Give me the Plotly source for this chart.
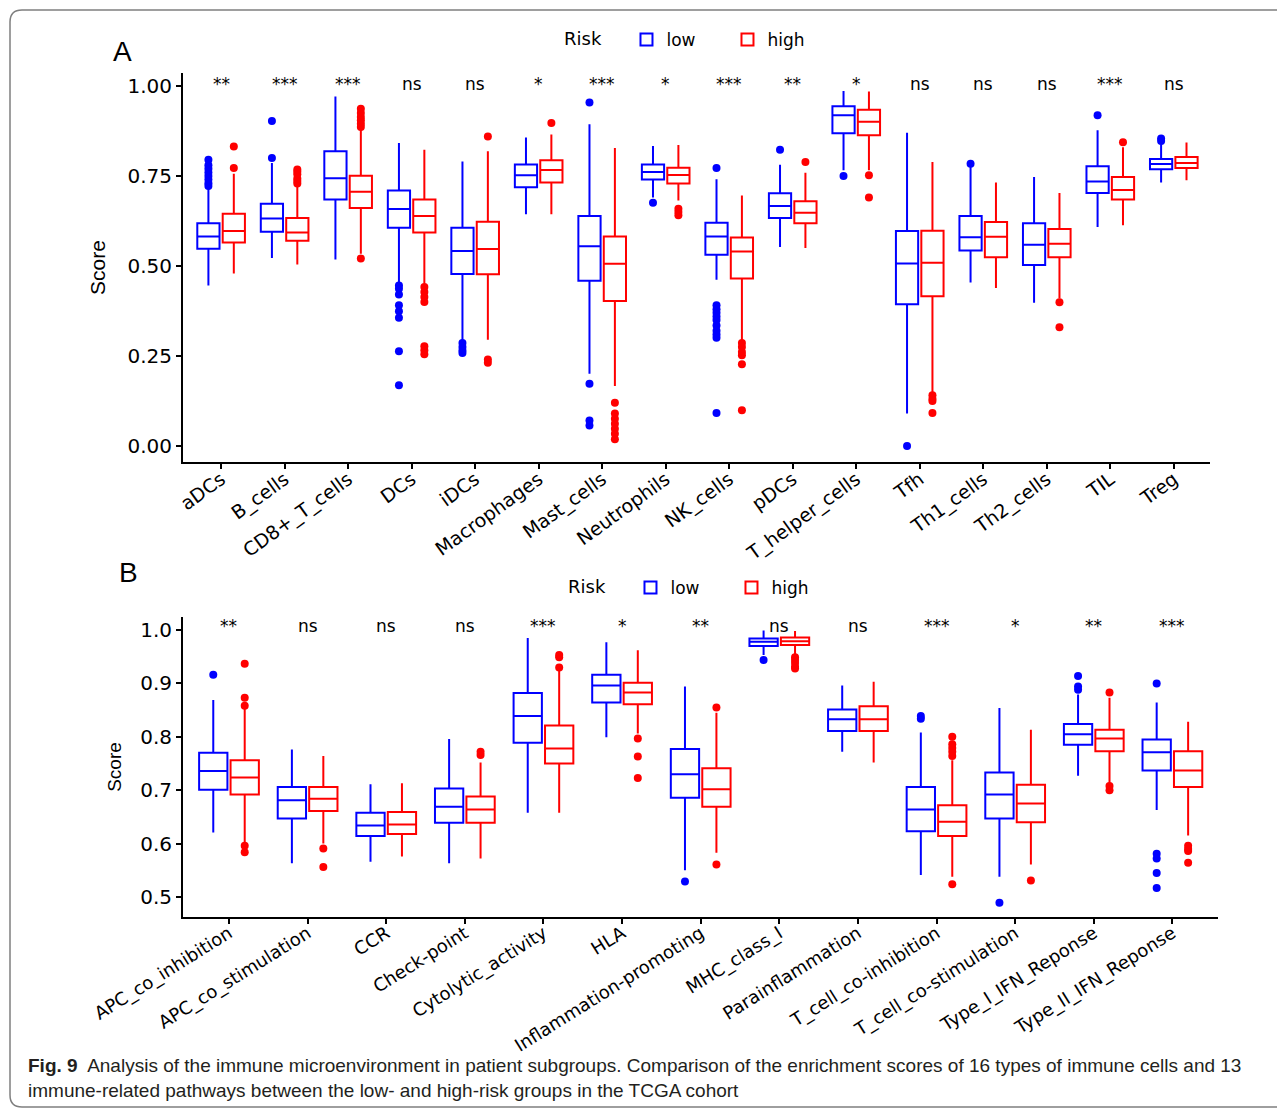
import plotly.graph_objects as go

# page is 1285x1111 with an 8px body margin -> figure is drawn 8px in
OFF = 8
W, H = 1285 - OFF, 1111 - OFF

# ---------------- Panel A data ----------------
cells = ["aDCs", "B_cells", "CD8+_T_cells", "DCs", "iDCs", "Macrophages", "Mast_cells",
         "Neutrophils", "NK_cells", "pDCs", "T_helper_cells", "Tfh", "Th1_cells",
         "Th2_cells", "TIL", "Treg"]
sig_A = ["**", "***", "***", "ns", "ns", "*", "***", "*", "***", "**", "*", "ns", "ns", "ns", "***", "ns"]

a_low_lo = [.446, .522, .518, .455, .292, .644, .201, .690, .462, .553, .766, .090, .454, .398, .608, .732]
a_low_q1 = [.548, .595, .685, .606, .478, .719, .459, .740, .531, .633, .869, .394, .543, .503, .703, .769]
a_low_med = [.582, .632, .744, .658, .542, .752, .555, .761, .582, .667, .919, .507, .580, .559, .735, .783]
a_low_q3 = [.619, .673, .819, .710, .606, .782, .639, .782, .620, .702, .944, .597, .639, .619, .777, .797]
a_low_hi = [.715, .786, .971, .842, .790, .857, .894, .833, .741, .781, .986, .870, .775, .747, .877, .838]
a_low_out = [
    [.722, .73, .74, .75, .76, .77, .78, .795],
    [.80, .903],
    [],
    [.446, .437, .421, .391, .374, .356, .263, .169],
    [.286, .275, .265, .258],
    [],
    [.954, .173, .071, .057],
    [.676],
    [.772, .391, .38, .37, .36, .35, .335, .32, .31, .301, .092],
    [.823],
    [.750],
    [0.0],
    [.784],
    [],
    [.919],
    [.847, .854],
]

a_high_lo = [.479, .504, .534, .451, .295, .644, .167, .682, .294, .550, .766, .145, .439, .410, .613, .738]
a_high_q1 = [.565, .570, .661, .593, .477, .732, .403, .729, .465, .619, .863, .416, .524, .524, .685, .772]
a_high_med = [.597, .593, .706, .639, .547, .767, .506, .753, .540, .648, .901, .509, .581, .562, .711, .786]
a_high_q3 = [.645, .633, .751, .685, .623, .794, .582, .773, .579, .680, .934, .598, .622, .603, .747, .803]
a_high_hi = [.756, .724, .880, .823, .819, .865, .828, .836, .696, .759, .985, .789, .732, .703, .830, .843]
a_high_out = [
    [.772, .832],
    [.729, .736, .743, .755, .762, .768],
    [.886, .895, .905, .914, .925, .937, .521],
    [.442, .428, .414, .400, .277, .266, .255],
    [.860, .240, .231],
    [.897],
    [.120, .090, .076, .062, .048, .034, .019],
    [.659, .650, .641],
    [.286, .275, .261, .252, .227, .099],
    [.789],
    [.752, .690],
    [.141, .131, .125, .092],
    [],
    [.399, .330],
    [.844],
    [],
]

# ---------------- Panel B data ----------------
paths = ["APC_co_inhibition", "APC_co_stimulation", "CCR", "Check-point", "Cytolytic_activity",
         "HLA", "Inflammation-promoting", "MHC_class_I", "Parainflammation",
         "T_cell_co-inhibition", "T_cell_co-stimulation", "Type_I_IFN_Reponse", "Type_II_IFN_Reponse"]
sig_B = ["**", "ns", "ns", "ns", "***", "*", "**", "ns", "ns", "***", "*", "**", "***"]

b_low_lo = [.621, .563, .566, .563, .658, .799, .550, .953, .772, .541, .538, .727, .663]
b_low_q1 = [.701, .647, .614, .639, .789, .864, .686, .970, .811, .623, .647, .785, .737]
b_low_med = [.736, .681, .634, .669, .839, .896, .730, .978, .833, .664, .692, .805, .771]
b_low_q3 = [.770, .706, .658, .703, .882, .916, .777, .984, .851, .706, .733, .824, .795]
b_low_hi = [.869, .776, .711, .796, .985, .977, .894, .999, .896, .808, .854, .879, .864]
b_low_out = [
    [.916], [], [], [], [], [], [.529], [.944], [], [.834, .839], [.489],
    [.888, .894, .914], [.900, .581, .572, .545, .517],
]

b_high_lo = [.600, .600, .576, .572, .658, .806, .583, .953, .752, .538, .561, .713, .615]
b_high_q1 = [.692, .661, .618, .639, .750, .861, .669, .972, .811, .614, .640, .773, .706]
b_high_med = [.724, .684, .636, .664, .778, .883, .702, .979, .833, .641, .675, .797, .737]
b_high_q3 = [.756, .706, .659, .688, .821, .901, .741, .986, .857, .672, .710, .813, .773]
b_high_hi = [.852, .764, .713, .752, .925, .962, .845, .998, .903, .756, .813, .873, .828]
b_high_out = [
    [.858, .873, .937, .596, .584], [.591, .556], [], [.766, .772], [.930, .949, .953],
    [.797, .763, .723], [.855, .561], [.949, .944, .938, .931, .928], [],
    [.764, .772, .779, .786, .800, .524], [.531], [.883, .708, .700], [.596, .590, .586, .564],
]

BLUE = "#0000FF"
RED = "#FF0000"
TICKFONT = dict(family="DejaVu Sans", size=20, color="black")
XTICKFONT_A = dict(family="DejaVu Sans", size=19, color="black")
XTICKFONT_B = dict(family="DejaVu Sans", size=18, color="black")
CAPFONT = "Liberation Sans"

fig = go.Figure()


def add_panel(cats, groups, xa, ya, legend, off, bw):
    n = len(cats)
    for name, color, sign, (lo, q1, med, q3, hi, outs) in groups:
        pos = [i + sign * off for i in range(n)]
        fig.add_trace(go.Box(
            x=pos, lowerfence=lo, q1=q1, median=med, q3=q3, upperfence=hi,
            name=name, legend=legend, legendgroup=legend + name,
            line=dict(color=color, width=2), fillcolor="rgba(255,255,255,0)",
            whiskerwidth=0, width=bw, boxpoints=False,
            xaxis=xa, yaxis=ya, hoverinfo="skip",
        ))
        ox, oy = [], []
        for i, vals in enumerate(outs):
            for v in vals:
                ox.append(i + sign * off)
                oy.append(v)
        fig.add_trace(go.Scatter(
            x=ox, y=oy, mode="markers", marker=dict(color=color, size=8),
            showlegend=False, xaxis=xa, yaxis=ya, hoverinfo="skip",
            legendgroup=legend + name,
        ))


add_panel(cells, [
    ("low", BLUE, -1, (a_low_lo, a_low_q1, a_low_med, a_low_q3, a_low_hi, a_low_out)),
    ("high", RED, 1, (a_high_lo, a_high_q1, a_high_med, a_high_q3, a_high_hi, a_high_out)),
], "x", "y", "legend", 0.2, 0.35)

add_panel(paths, [
    ("low", BLUE, -1, (b_low_lo, b_low_q1, b_low_med, b_low_q3, b_low_hi, b_low_out)),
    ("high", RED, 1, (b_high_lo, b_high_q1, b_high_med, b_high_q3, b_high_hi, b_high_out)),
], "x2", "y2", "legend2", 0.2, 0.36)


def px_x(p):
    return (p - OFF) / W


def px_y(p):
    return 1 - (p - OFF) / H


axis_common = dict(showline=True, linecolor="black", linewidth=2, ticks="outside",
                   ticklen=5, tickwidth=2, tickcolor="black", showgrid=False,
                   zeroline=False, automargin=False)

# panel A geometry: 1.00 at y=86px, 0.00 at y=446px
a_top, a_bot = 73, 462
a_yr = [(446 - a_bot) / 360, (446 - a_top) / 360]
b_top, b_bot = 617, 917
b_yr = [0.5 - (b_bot - 897) / 534, 1.0 + (630 - b_top) / 534]

legend_common = dict(orientation="h", xanchor="left", yanchor="top", entrywidth=56,
                     title=dict(text="Risk&nbsp;&nbsp;&nbsp;",
                                font=dict(family="DejaVu Sans", size=18, color="black")),
                     font=dict(family="DejaVu Sans", size=17, color="black"),
                     bgcolor="rgba(0,0,0,0)")

fig.update_layout(
    template="none",
    width=W, height=H, margin=dict(l=0, r=0, t=0, b=0, autoexpand=False),
    paper_bgcolor="white", plot_bgcolor="white", showlegend=True,
    xaxis=dict(axis_common, domain=[px_x(183), px_x(1210)], range=[-0.6, 15.57],
               tickmode="array", tickvals=list(range(len(cells))), ticktext=cells,
               tickangle=-36, anchor="y", tickfont=XTICKFONT_A, ticklabelstandoff=-8),
    yaxis=dict(axis_common, domain=[px_y(a_bot), px_y(a_top)], range=a_yr,
               tickmode="array", tickvals=[0, 0.25, 0.5, 0.75, 1.0], tickformat=".2f",
               anchor="x", tickfont=TICKFONT,
               title=dict(text="Score", font=dict(family=CAPFONT, size=21, color="black"), standoff=16)),
    xaxis2=dict(axis_common, domain=[px_x(183), px_x(1218)], range=[-0.585, 12.58],
                tickmode="array", tickvals=list(range(len(paths))), ticktext=paths,
                tickangle=-32, anchor="y2", tickfont=XTICKFONT_B, ticklabelstandoff=-8),
    yaxis2=dict(axis_common, domain=[px_y(b_bot), px_y(b_top)], range=b_yr,
                tickmode="array", tickvals=[0.5, 0.6, 0.7, 0.8, 0.9, 1.0], tickformat=".1f",
                anchor="x2", tickfont=TICKFONT,
                title=dict(text="Score", font=dict(family=CAPFONT, size=19, color="black"), standoff=14)),
    legend=dict(legend_common, x=px_x(562), y=px_y(22)),
    legend2=dict(legend_common, x=px_x(566), y=px_y(570)),
)

ann = []
for i, s in enumerate(sig_A):
    ann.append(dict(x=i, y=(446 - 84) / 360, xref="x", yref="y", text=s, showarrow=False,
                    font=dict(family="DejaVu Sans", size=17, color="black"), yanchor="middle"))
for i, s in enumerate(sig_B):
    ann.append(dict(x=i, y=1.0 - (626 - 630) / 534, xref="x2", yref="y2", text=s, showarrow=False,
                    font=dict(family="DejaVu Sans", size=17, color="black"), yanchor="middle"))
ann.append(dict(x=px_x(122), y=px_y(52), xref="paper", yref="paper", text="A", showarrow=False,
                xanchor="center", yanchor="middle",
                font=dict(family=CAPFONT, size=28, color="black")))
ann.append(dict(x=px_x(128), y=px_y(572), xref="paper", yref="paper", text="B", showarrow=False,
                xanchor="center", yanchor="middle",
                font=dict(family=CAPFONT, size=28, color="black")))
ann.append(dict(x=px_x(26), y=px_y(1053), xref="paper", yref="paper", xanchor="left", yanchor="top",
                align="left", showarrow=False,
                text="<b>Fig. 9</b>  Analysis of the immune microenvironment in patient subgroups. "
                     "Comparison of the enrichment scores of 16 types of immune cells and 13<br>"
                     "immune-related pathways between the low- and high-risk groups in the TCGA cohort",
                font=dict(family=CAPFONT, size=19, color="#231f20")))
fig.update_layout(annotations=ann)

# rounded frame
L, T, R, B_, r = 10, 10, 1300, 1107, 12
path = (f"M {px_x(L + r)} {px_y(T)} L {px_x(R)} {px_y(T)} "
        f"M {px_x(L + r)} {px_y(T)} Q {px_x(L)} {px_y(T)} {px_x(L)} {px_y(T + r)} "
        f"L {px_x(L)} {px_y(B_ - r)} Q {px_x(L)} {px_y(B_)} {px_x(L + r)} {px_y(B_)} "
        f"L {px_x(R)} {px_y(B_)}")
fig.add_shape(type="path", path=path, xref="paper", yref="paper",
              line=dict(color="#7f7f7f", width=1.5))

fig.write_html("out.html", config={"displayModeBar": False})
